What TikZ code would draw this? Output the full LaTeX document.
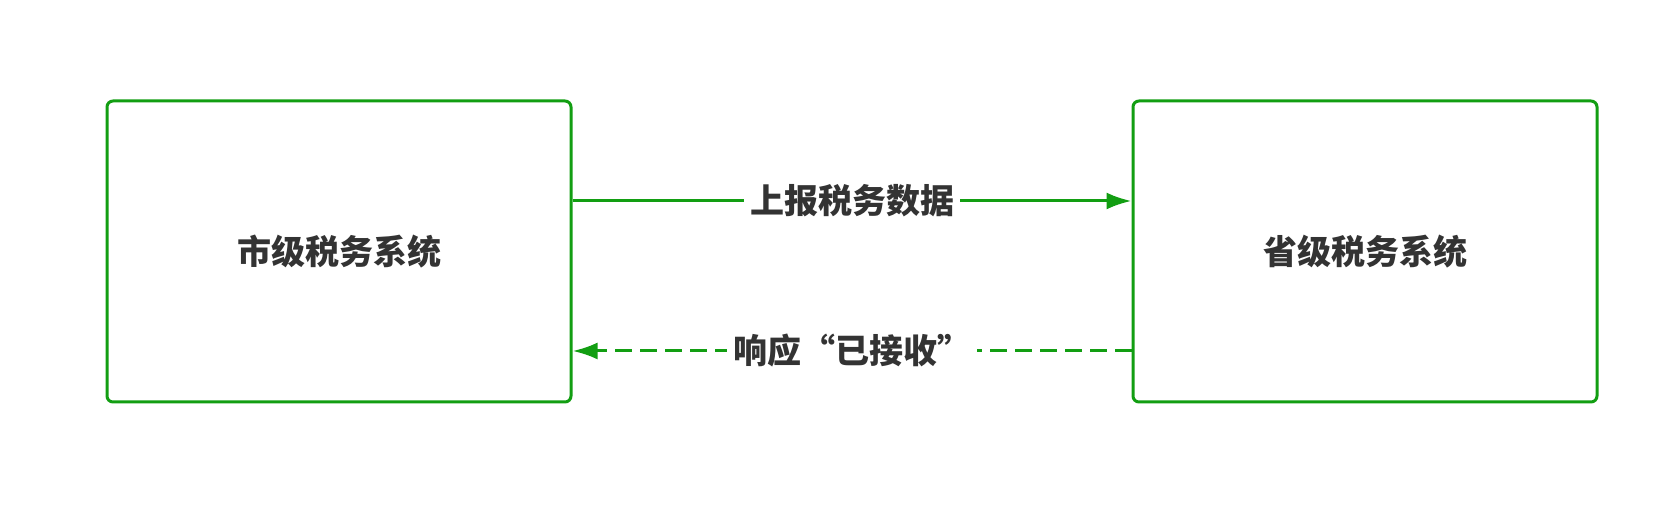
\documentclass[tikz,border=0pt]{standalone}
\usepackage{fontspec}
\newfontfamily\cjk{Noto Sans CJK SC}
\usetikzlibrary{arrows.meta}
\definecolor{sysgreen}{RGB}{18,158,18}
\definecolor{txtgray}{RGB}{51,51,51}
\tikzset{
  sysbox/.style={draw=sysgreen, line width=1.5pt, rounded corners=3pt,
    minimum width=232pt, minimum height=150.5pt, inner sep=0pt,
    text=txtgray, font=\cjk\bfseries\fontsize{17pt}{20pt}\selectfont},
  flow/.style={draw=sysgreen, line width=1.5pt,
    -{Latex[length=12.5pt,width=8.5pt]}},
  reply/.style={flow, dash pattern=on 8.5pt off 4pt},
  msg/.style={fill=white, inner xsep=3pt, inner ysep=1pt, text=txtgray,
    font=\cjk\bfseries\fontsize{17pt}{20pt}\selectfont},
}
\begin{document}
\begin{tikzpicture}[x=0.5pt,y=0.5pt]
  \useasboundingbox (0,0) rectangle (1676,522);
%%
  % Node: City
  \node[sysbox] (City) at (339,270.5) {市级税务系统};
  % Node: Province
  \node[sysbox] (Province) at (1365,270.5) {省级税务系统};
  % Edge: City -> Province
  \draw[flow] ([yshift=25.25pt]City.east) -- ([yshift=25.25pt]Province.west)
    node[midway, msg] {上报税务数据};
  % Edge: Province -> City
  \draw[reply] ([yshift=-49.75pt]Province.west) -- ([yshift=-49.75pt]City.east)
    node[midway, msg] {响应“已接收”};
%
\end{tikzpicture}
\end{document}
